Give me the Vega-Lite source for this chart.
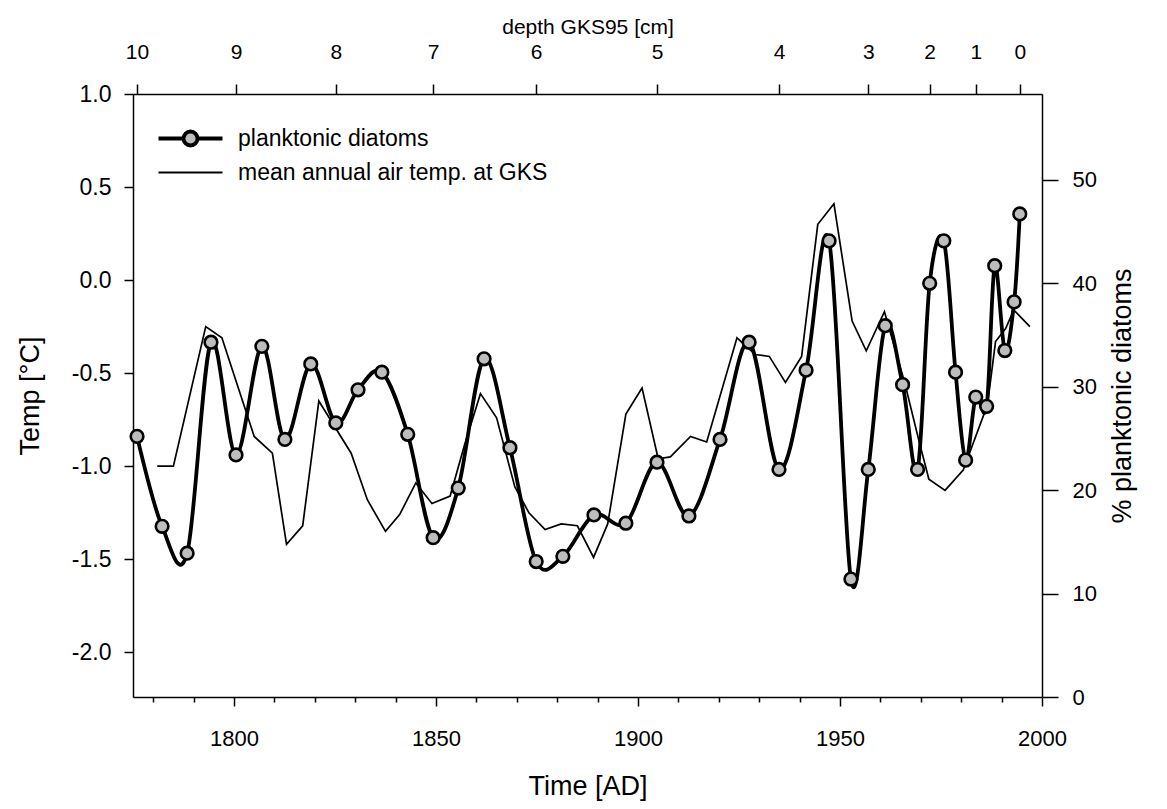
{
  "$schema": "https://vega.github.io/schema/vega-lite/v6.json",
  "width": 909,
  "height": 603,
  "autosize": {"type": "none"},
  "padding": {"left": 133, "top": 94, "right": 125, "bottom": 112},
  "background": "white",
  "config": {
    "font": "Liberation Sans",
    "view": {"stroke": null},
    "axis": {
      "domainColor": "black",
      "tickColor": "black",
      "labelColor": "black",
      "titleColor": "black",
      "labelFont": "Liberation Sans",
      "titleFont": "Liberation Sans",
      "titleFontWeight": "normal",
      "domainWidth": 1.5,
      "tickWidth": 1.5,
      "grid": false
    }
  },
  "datasets": {
    "temp": [
      {"year": 1781, "temp": -1.0}, {"year": 1785, "temp": -1.0}, {"year": 1793, "temp": -0.25},
      {"year": 1797, "temp": -0.31}, {"year": 1805, "temp": -0.84}, {"year": 1809.5, "temp": -0.93},
      {"year": 1813, "temp": -1.42}, {"year": 1817, "temp": -1.32}, {"year": 1821, "temp": -0.65},
      {"year": 1829, "temp": -0.93}, {"year": 1833, "temp": -1.18}, {"year": 1837.5, "temp": -1.35},
      {"year": 1841, "temp": -1.26}, {"year": 1845, "temp": -1.09}, {"year": 1849, "temp": -1.2},
      {"year": 1853.5, "temp": -1.16}, {"year": 1857, "temp": -0.89}, {"year": 1861, "temp": -0.61},
      {"year": 1865, "temp": -0.74}, {"year": 1869.5, "temp": -1.11}, {"year": 1873, "temp": -1.25},
      {"year": 1877, "temp": -1.34}, {"year": 1881, "temp": -1.31}, {"year": 1885, "temp": -1.32},
      {"year": 1889, "temp": -1.49}, {"year": 1892.5, "temp": -1.31}, {"year": 1897, "temp": -0.72},
      {"year": 1901, "temp": -0.58}, {"year": 1905, "temp": -0.96}, {"year": 1908, "temp": -0.95},
      {"year": 1913, "temp": -0.84}, {"year": 1917, "temp": -0.87}, {"year": 1924.5, "temp": -0.31},
      {"year": 1929, "temp": -0.4}, {"year": 1932.5, "temp": -0.41}, {"year": 1936.5, "temp": -0.55},
      {"year": 1940.5, "temp": -0.41}, {"year": 1944.5, "temp": 0.3}, {"year": 1948.5, "temp": 0.41},
      {"year": 1953, "temp": -0.22}, {"year": 1956.5, "temp": -0.38}, {"year": 1961, "temp": -0.17},
      {"year": 1966, "temp": -0.55}, {"year": 1969.5, "temp": -0.86}, {"year": 1972, "temp": -1.07},
      {"year": 1976, "temp": -1.13}, {"year": 1980.5, "temp": -1.02}, {"year": 1986.5, "temp": -0.67},
      {"year": 1988.5, "temp": -0.33}, {"year": 1991, "temp": -0.26}, {"year": 1993, "temp": -0.16},
      {"year": 1997, "temp": -0.25}
    ],
    "diatoms": [
      {"year": 1776, "pct": 25.2}, {"year": 1782.2, "pct": 16.5}, {"year": 1788.4, "pct": 13.9},
      {"year": 1794.3, "pct": 34.3}, {"year": 1800.5, "pct": 23.4}, {"year": 1806.9, "pct": 33.9},
      {"year": 1812.6, "pct": 24.9}, {"year": 1819, "pct": 32.2}, {"year": 1825.2, "pct": 26.5},
      {"year": 1830.7, "pct": 29.7}, {"year": 1836.6, "pct": 31.4}, {"year": 1843, "pct": 25.4},
      {"year": 1849.3, "pct": 15.4}, {"year": 1855.5, "pct": 20.2}, {"year": 1861.9, "pct": 32.7},
      {"year": 1868.3, "pct": 24.1}, {"year": 1874.8, "pct": 13.1}, {"year": 1881.4, "pct": 13.6},
      {"year": 1889.1, "pct": 17.6}, {"year": 1897, "pct": 16.8}, {"year": 1904.7, "pct": 22.7},
      {"year": 1912.6, "pct": 17.5}, {"year": 1920.3, "pct": 24.9}, {"year": 1927.5, "pct": 34.3},
      {"year": 1934.9, "pct": 22.0}, {"year": 1941.6, "pct": 31.6}, {"year": 1947.3, "pct": 44.1},
      {"year": 1952.7, "pct": 11.4}, {"year": 1957, "pct": 22.0}, {"year": 1961.2, "pct": 35.9},
      {"year": 1965.5, "pct": 30.2}, {"year": 1969.2, "pct": 22.0}, {"year": 1972.2, "pct": 40.0},
      {"year": 1975.7, "pct": 44.1}, {"year": 1978.6, "pct": 31.4}, {"year": 1981.1, "pct": 22.9},
      {"year": 1983.6, "pct": 29.0}, {"year": 1986.3, "pct": 28.1}, {"year": 1988.3, "pct": 41.7},
      {"year": 1990.8, "pct": 33.5}, {"year": 1993.1, "pct": 38.2}, {"year": 1994.5, "pct": 46.7}
    ]
  },
  "layer": [
    {
      "data": {"name": "temp"},
      "mark": {"type": "line", "strokeWidth": 1.7, "strokeJoin": "miter"},
      "encoding": {
        "x": {
          "field": "year", "type": "quantitative",
          "scale": {"domain": [1775, 2000], "nice": false, "zero": false},
          "axis": {
            "orient": "bottom",
            "values": [1780, 1790, 1800, 1810, 1820, 1830, 1840, 1850, 1860, 1870, 1880, 1890, 1900, 1910, 1920, 1930, 1940, 1950, 1960, 1970, 1980, 1990, 2000],
            "labelExpr": "datum.value % 50 === 0 ? format(datum.value, 'd') : ''",
            "tickSize": {"condition": {"test": "datum.value % 50 === 0", "value": 9}, "value": 5},
            "labelFontSize": 22,
            "labelPadding": 22,
            "labelFlush": false,
            "labelOverlap": false,
            "title": "Time [AD]",
            "titleFontSize": 27,
            "titlePadding": 24
          }
        },
        "y": {
          "field": "temp", "type": "quantitative",
          "scale": {"domain": [-2.24, 1.0], "nice": false, "zero": false},
          "axis": {
            "orient": "left",
            "values": [-2, -1.5, -1, -0.5, 0, 0.5, 1],
            "labelExpr": "(datum.value < 0 ? '-' : '') + format(abs(datum.value), '.1f')",
            "tickSize": 9,
            "labelPadding": 13,
            "labelFontSize": 23,
            "labelFlush": false,
            "title": "Temp [°C]",
            "titleFontSize": 27,
            "titlePadding": 27
          }
        },
        "color": {
          "datum": "mean annual air temp. at GKS",
          "type": "nominal",
          "scale": {"domain": ["planktonic diatoms", "mean annual air temp. at GKS"], "range": ["black", "black"]},
          "legend": {
            "orient": "none",
            "legendX": 46,
            "legendY": 33,
            "title": null,
            "labelFont": "Liberation Sans",
            "labelFontSize": 23,
            "labelColor": "black",
            "labelLimit": 0,
            "symbolSize": 400,
            "labelOffset": 36,
            "rowPadding": 7,
            "encode": {
              "symbols": {
                "update": {
                  "shape": {"signal": "datum.value === 'planktonic diatoms' ? 'M-3.2,0H-0.7M0.7,0H3.2M-0.7,0A0.7,0.7 0 1,0 0.7,0A0.7,0.7 0 1,0 -0.7,0Z' : 'M-3.2,0H3.2'"},
                  "strokeWidth": {"signal": "datum.value === 'planktonic diatoms' ? 3.8 : 1.8"},
                  "fill": {"value": "#bdbdbd"},
                  "stroke": {"value": "black"},
                  "opacity": {"value": 1}
                }
              }
            }
          }
        }
      }
    },
    {
      "data": {"name": "diatoms"},
      "encoding": {
        "x": {
          "field": "year", "type": "quantitative",
          "scale": {"domain": [1775, 2000], "nice": false, "zero": false},
          "axis": {
            "orient": "top",
            "values": [1776, 1800.5, 1825.2, 1849.3, 1874.8, 1904.7, 1934.9, 1957, 1972.2, 1983.6, 1994.5],
            "labelExpr": "['10','9','8','7','6','5','4','3','2','1','0'][indexof([1776, 1800.5, 1825.2, 1849.3, 1874.8, 1904.7, 1934.9, 1957, 1972.2, 1983.6, 1994.5], datum.value)]",
            "tickSize": 10,
            "labelPadding": 22,
            "labelFontSize": 21,
            "labelFlush": false,
            "labelOverlap": false,
            "domain": true,
            "title": "depth GKS95 [cm]",
            "titleFontSize": 21,
            "titlePadding": 4
          }
        },
        "y": {
          "field": "pct", "type": "quantitative",
          "scale": {"domain": [0, 58.3], "nice": false, "zero": false},
          "axis": {
            "orient": "right",
            "values": [0, 10, 20, 30, 40, 50],
            "tickSize": 16,
            "labelPadding": 14,
            "labelFontSize": 22,
            "labelFlush": false,
            "title": "% planktonic diatoms",
            "titleAngle": -90,
            "titleFontSize": 27,
            "titlePadding": 40
          }
        }
      },
      "layer": [
        {
          "mark": {"type": "line", "interpolate": "cardinal", "strokeWidth": 3.8},
          "encoding": {"color": {"datum": "planktonic diatoms", "type": "nominal"}}
        },
        {
          "mark": {"type": "point", "shape": "circle", "filled": true, "fill": "#bdbdbd", "stroke": "black", "strokeWidth": 2.6, "size": 160, "opacity": 1}
        }
      ]
    }
  ],
  "resolve": {"scale": {"y": "independent"}, "axis": {"x": "independent", "y": "independent"}}
}
